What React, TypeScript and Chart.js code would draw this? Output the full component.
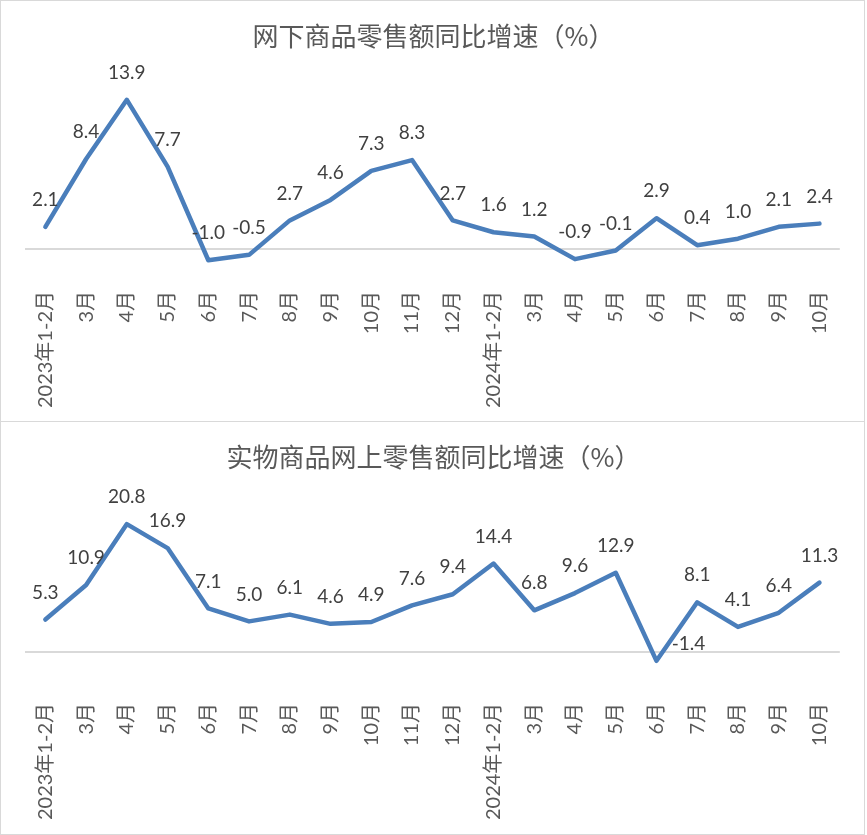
import React, { useEffect, useRef } from "react";
import { Chart, registerables } from "chart.js";

Chart.register(...registerables);

const categories = [
  "2023年1-2月", "3月", "4月", "5月", "6月", "7月", "8月", "9月", "10月", "11月", "12月",
  "2024年1-2月", "3月", "4月", "5月", "6月", "7月", "8月", "9月", "10月",
];

const offlineGrowth = [2.1, 8.4, 13.9, 7.7, -1.0, -0.5, 2.7, 4.6, 7.3, 8.3, 2.7, 1.6, 1.2, -0.9, -0.1, 2.9, 0.4, 1.0, 2.1, 2.4];
const onlineGrowth = [5.3, 10.9, 20.8, 16.9, 7.1, 5.0, 6.1, 4.6, 4.9, 7.6, 9.4, 14.4, 6.8, 9.6, 12.9, -1.4, 8.1, 4.1, 6.4, 11.3];

const offlineTitle = "网下商品零售额同比增速（%）";
const onlineTitle = "实物商品网上零售额同比增速（%）";

const LINE_COLOR = "#4A7EBB";
const LABEL_COLOR = "#404040";
const AXIS_TEXT = "#595959";
const BORDER = "#d9d9d9";

type Props = {
  title: string;
  values: number[];
  yMin: number;
  yMax: number;
  step: number;
  width: number;
  height: number;
  axisHeight: number;
  tickPadding: number;
  labelShift?: Record<number, [number, number]>;
};

function LineChart(props: Props) {
  const ref = useRef<HTMLCanvasElement | null>(null);
  useEffect(() => {
    if (!ref.current) return;
    const shift = props.labelShift || {};
    const labelPlugin = {
      id: "valueLabels",
      afterDatasetsDraw(chart: any) {
        const ctx = chart.ctx;
        const meta = chart.getDatasetMeta(0);
        ctx.save();
        ctx.font = '19px Lato, "Noto Sans", sans-serif';
        ctx.fillStyle = LABEL_COLOR;
        ctx.textAlign = "center";
        ctx.textBaseline = "middle";
        meta.data.forEach((pt: any, i: number) => {
          const v = props.values[i];
          const [dx, dy] = shift[i] || [0, 0];
          ctx.fillText(v.toFixed(1), pt.x + dx, pt.y - 27 + dy);
        });
        ctx.restore();
      },
    };
    const chart = new Chart(ref.current, {
      type: "line",
      data: {
        labels: categories,
        datasets: [
          {
            data: props.values,
            borderColor: LINE_COLOR,
            borderWidth: 4.5,
            borderJoinStyle: "round",
            borderCapStyle: "round",
            pointRadius: 0,
            pointHoverRadius: 0,
            tension: 0,
            fill: false,
          },
        ],
      },
      options: {
        animation: false,
        responsive: false,
        devicePixelRatio: 1,
        layout: { padding: { left: 24, right: 22, top: 0, bottom: 0 } },
        plugins: {
          legend: { display: false },
          tooltip: { enabled: false },
          title: {
            display: true,
            text: props.title,
            color: AXIS_TEXT,
            font: { family: '"Noto Sans CJK SC", sans-serif', size: 26, weight: "normal", lineHeight: 1.2 },
            padding: { top: 20, bottom: 25 },
          },
        },
        scales: {
          x: {
            type: "category",
            offset: true,
            grid: { display: false, drawTicks: false },
            border: { display: false },
            ticks: {
              autoSkip: false,
              minRotation: 90,
              maxRotation: 90,
              padding: props.tickPadding,
              color: AXIS_TEXT,
              font: { family: 'Lato, "Noto Sans CJK SC", sans-serif', size: 20 },
            },
            afterFit: (scale: any) => {
              scale.height = props.axisHeight;
            },
          },
          y: {
            min: props.yMin,
            max: props.yMax,
            border: { display: false },
            grid: {
              drawTicks: false,
              lineWidth: 2,
              color: (c: any) => (c.tick && c.tick.value === 0 ? BORDER : "rgba(0,0,0,0)"),
            },
            ticks: { display: false, stepSize: props.step },
          },
        },
      },
      plugins: [labelPlugin],
    } as any);
    return () => chart.destroy();
  }, []);
  return <canvas ref={ref} width={props.width} height={props.height} style={{ display: "block" }} />;
}

export default function App() {
  useEffect(() => {
    document.body.style.margin = "0";
  }, []);
  return (
    <div style={{ width: 865, background: "#fff" }}>
      <div style={{ boxSizing: "border-box", width: 865, height: 422, border: `1px solid ${BORDER}` }}>
        <LineChart
          title={offlineTitle}
          values={offlineGrowth}
          yMin={-2}
          yMax={16}
          step={2}
          width={863}
          height={420}
          axisHeight={150}
          tickPadding={20}
        />
      </div>
      <div
        style={{
          boxSizing: "border-box",
          width: 865,
          height: 413,
          borderLeft: `1px solid ${BORDER}`,
          borderRight: `1px solid ${BORDER}`,
          borderBottom: `1px solid ${BORDER}`,
        }}
      >
        <LineChart
          title={onlineTitle}
          values={onlineGrowth}
          yMin={-5}
          yMax={25}
          step={5}
          width={863}
          height={412}
          axisHeight={151}
          tickPadding={20}
          labelShift={{ 15: [32, 10] }}
        />
      </div>
    </div>
  );
}
